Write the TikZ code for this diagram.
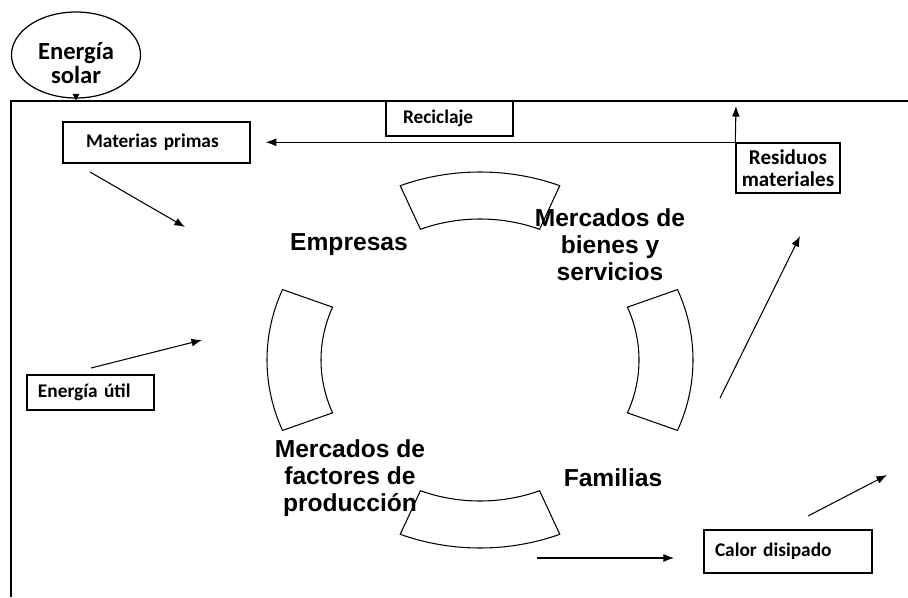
\documentclass[tikz,border=0pt]{standalone}
\usepackage{fontspec}
\setmainfont{Liberation Sans}
\newfontfamily\calibri{Carlito}
\usetikzlibrary{arrows.meta,shapes.geometric}
\tikzset{
  flowbox/.style={draw,line width=0.8pt,font=\calibri\bfseries\fontsize{11}{12}\selectfont,
    align=left,inner ysep=0pt},
  bigtext/.style={font=\bfseries\fontsize{14}{15.3}\selectfont,align=center},
  flow/.style={-{Latex[length=6pt,width=4.5pt]},line width=0.6pt}
}
\begin{document}
\begin{tikzpicture}
\useasboundingbox (0,0) rectangle (18.16,11.94);
% sun and frame
\node[draw,ellipse,line width=0.7pt,minimum width=2.58cm,minimum height=1.72cm] (sol) at (1.52,10.84) {};
\node[font=\calibri\bfseries\fontsize{14}{13.8}\selectfont,align=center,yshift=-0.16cm] (soltext) at (sol)
      {Energía\\solar};
\coordinate (frametop) at (0.22,9.92);
\draw[line width=0.7pt] (0.22,0) -- (frametop) -- (18.16,9.92);
\draw[-{Latex[length=4pt,width=4pt]}] (sol.south) -- (sol.south |- frametop);
% boxes
\node[flowbox,minimum height=0.82cm,inner xsep=0.46cm,text width=2.82cm] (mat) at (3.13,9.09) {Materias primas};
\node[flowbox,minimum height=0.70cm,inner xsep=0.34cm,text width=1.86cm] (rec) at (8.99,9.57) {Reciclaje};
\node[flowbox,minimum height=1.00cm,inner xsep=0.04cm,text width=2.00cm,align=center,
      font=\calibri\bfseries\fontsize{12}{12.5}\selectfont] (res) at (15.76,8.58) {Residuos\\materiales};
\node[flowbox,minimum height=0.70cm,inner xsep=0.22cm,text width=2.10cm] (util) at (1.81,4.09) {Energía útil};
\node[flowbox,minimum height=0.86cm,inner xsep=0.22cm,text width=2.92cm] (calor) at (15.76,0.91) {Calor disipado};
% circular flow
\foreach \a [evaluate=\a as \s using \a-22, evaluate=\a as \e using \a+22] in {0,90,180,270}
  \draw[line width=0.6pt,shift={(9.6,4.74)}]
    (\s:4.26 and 3.76) arc[start angle=\s,end angle=\e,x radius=4.26,y radius=3.76]
    -- (\e:3.18 and 2.82) arc[start angle=\e,end angle=\s,x radius=3.18,y radius=2.82] -- cycle;
\node[bigtext] (emp) at (6.98,7.04) {Empresas};
\node[bigtext] (bien) at (12.20,7.04) {Mercados de\\bienes y\\servicios};
\node[bigtext] (fact) at (7.00,2.38) {Mercados de\\factores de\\producción};
\node[bigtext] (fam) at (12.26,2.38) {Familias};
% flows
\coordinate (mat1) at (1.80,8.50);
\coordinate (mat2) at (3.70,7.40);
\coordinate (util1) at (1.82,4.58);
\coordinate (util2) at (4.04,5.14);
\coordinate (out1) at (14.40,3.98);
\coordinate (out2) at (16.00,7.22);
\coordinate (fam1) at (10.74,0.78);
\coordinate (fam2) at (13.48,0.78);
\coordinate (cal1) at (16.16,1.62);
\coordinate (cal2) at (17.74,2.44);
\coordinate (resup) at (14.72,9.82);
\draw[flow] (res.north west) -- (resup);
\draw[flow,shorten >=0.3cm] (res.north west) -- (res.north west -| mat.east);
\draw[flow] (mat1) -- (mat2);
\draw[flow] (util1) -- (util2);
\draw[flow] (out1) -- (out2);
\draw[flow] (fam1) -- (fam2);
\draw[flow] (cal1) -- (cal2);
\end{tikzpicture}
\end{document}
